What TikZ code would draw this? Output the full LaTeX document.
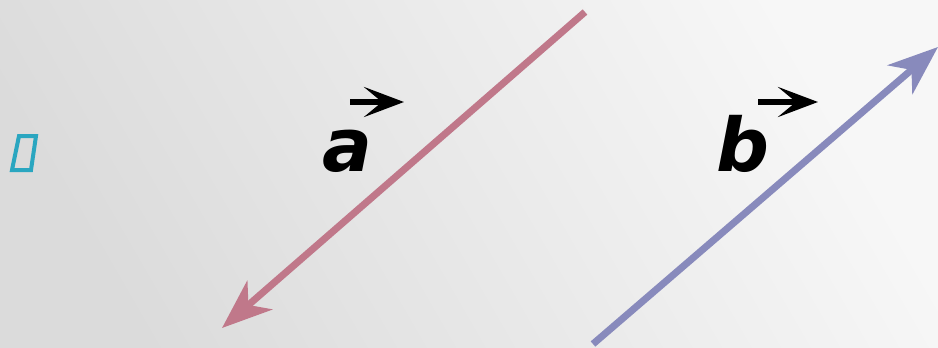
\documentclass[tikz,border=0pt]{standalone}
\usepackage{fontspec}
\setmainfont{DejaVu Sans}
\usetikzlibrary{arrows.meta, positioning}
\definecolor{vecred}{RGB}{192,120,138}
\definecolor{vecblue}{RGB}{136,138,188}
\definecolor{tofu}{RGB}{42,166,192}
\tikzset{
  vector/.style={
    line width=7pt,
    -{Stealth[length=50pt, width=38pt, inset=15pt]}
  },
  label/.style={
    font=\fontsize{74}{74}\selectfont\bfseries\itshape,
    anchor=base,
    inner sep=0pt
  },
  overarrow/.style={
    line width=6pt,
    -{Stealth[length=40pt, width=30pt, inset=18pt]}
  }
}

\begin{document}
\begin{tikzpicture}[x=1pt, y=-1pt]
    \useasboundingbox (0,0) rectangle (938,348);
    \shade[top color=black!3, bottom color=black!14, shading angle=-60] (0,0) rectangle (938,348);

    % missing glyph box
    \draw[tofu, line width=4pt] (19,136) -- (36,136) -- (31,170) -- (12,170) -- cycle;

    \coordinate (atail) at (585,12);
    \coordinate (ahead) at (222,328);
    \coordinate (btail) at (593,344);
    \coordinate (bhead) at (938,47);
    \draw[vector, vecred] (atail) -- (ahead);
    \draw[vector, vecblue] (btail) -- (bhead);

    \node[label] (alabel) at (347,171) {a};
    \node[label] (blabel) at (743,171) {b};

    \coordinate (aleft) at (350,102);
    \coordinate (aright) at (404,102);
    \coordinate (bleft) at (758,102);
    \coordinate (bright) at (818,102);
    \draw[overarrow] (aleft) -- (aright);
    \draw[overarrow] (bleft) -- (bright);
\end{tikzpicture}
\end{document}
